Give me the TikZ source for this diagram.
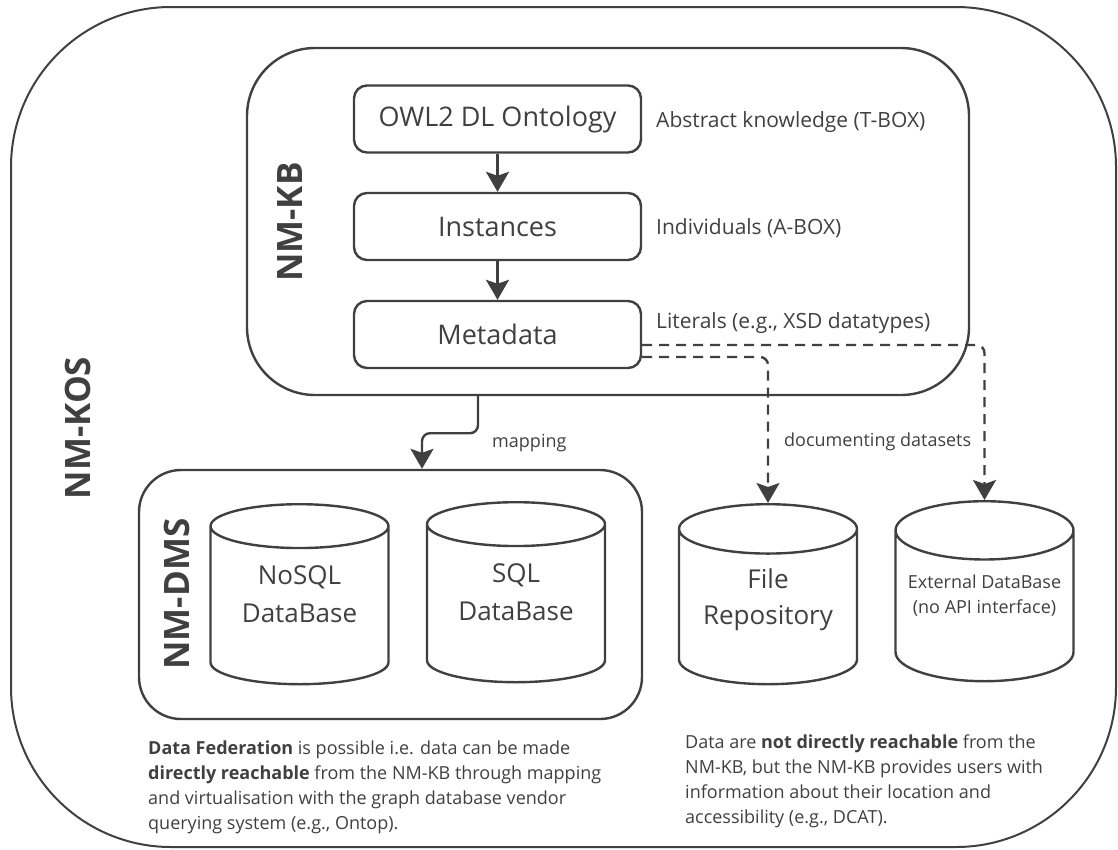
\documentclass[tikz,border=0pt]{standalone}
\usepackage{fontspec}
\setmainfont{Open Sans}
\usetikzlibrary{shapes.geometric,arrows.meta}
\definecolor{ink}{RGB}{64,64,64}

\begin{document}
\begin{tikzpicture}[x=1pt, y=-1pt, color=ink, line width=2.4pt,
    frame/.style={draw, inner sep=0pt},
    layer/.style={draw, rounded corners=13pt, minimum width=287pt, minimum height=67pt, inner sep=0pt, font=\fontsize{27}{32}\selectfont},
    title/.style={rotate=90, inner sep=0pt, font=\fontsize{35}{40}\selectfont\bfseries},
    remark/.style={anchor=base west, inner sep=0pt, font=\fontsize{21}{25}\selectfont},
    smalltext/.style={inner sep=0pt, font=\fontsize{18}{25}\selectfont},
    store/.style={draw, cylinder, shape border rotate=90, aspect=0.38, minimum width=178pt, minimum height=180pt, inner sep=0pt, text depth=24pt, align=center, anchor=north},
    flow/.style={-{Stealth[length=20pt, width=23pt, inset=4pt]}},
    ref/.style={flow, dash pattern=on 10pt off 7pt, rounded corners=8pt}]

    \useasboundingbox (0,0) rectangle (1118,849);

    \node[frame, line width=2pt, rounded corners=160pt, minimum width=1105pt, minimum height=840pt] (kos) at (563.5,427) {};
    \node[frame, rounded corners=68pt, minimum width=722pt, minimum height=347pt] (kb) at (608,221.5) {};
    \node[frame, rounded corners=42pt, minimum width=503pt, minimum height=249pt] (dms) at (390.5,594.5) {};

    \node[title] (koslabel) at (78,428) {NM-KOS};
    \node[title] (kblabel) at (290,222) {NM-KB};
    \node[title] (dmslabel) at (177,594) {NM-DMS};

    \node[layer] (owl) at (497.5,119) {OWL2 DL Ontology};
    \node[layer] (inst) at (497.5,226.5) {Instances};
    \node[layer] (meta) at (497.5,334.5) {Metadata};
    \node[remark] (tbox) at (655,127) {Abstract knowledge (T-BOX)};
    \node[remark] (abox) at (655,234) {Individuals (A-BOX)};
    \node[remark] (lit) at (655,328) {Literals (e.g., XSD datatypes)};

    \node[store, font=\fontsize{26}{38}\selectfont] (nosql) at (299.5,503) {NoSQL\\DataBase};
    \node[store, font=\fontsize{26}{38}\selectfont] (sql) at (516,501) {SQL\\DataBase};
    \node[store, font=\fontsize{26}{36}\selectfont, text depth=22pt] (file) at (768,503) {File\\Repository};
    \node[store, font=\fontsize{18}{25}\selectfont, text depth=25pt] (ext) at (984.5,500) {External DataBase\\(no API interface)};

    \node[smalltext, anchor=base west] (map) at (491,447) {mapping};
    \node[smalltext, anchor=base west] (doc) at (783,446) {documenting datasets};
    \node[smalltext, anchor=north west, align=left] (fed) at (147,740) {\textbf{Data Federation} is possible i.e. data can be made\\\textbf{directly reachable} from the NM-KB through mapping\\and virtualisation with the graph database vendor\\querying system (e.g., Ontop).};
    \node[smalltext, anchor=north west, align=left] (reach) at (684,734) {Data are \textbf{not directly reachable} from the\\NM-KB, but the NM-KB provides users with\\information about their location and\\accessibility (e.g., DCAT).};

    \coordinate (mapout) at ([xshift=-130pt]kb.south);
    \coordinate (mapin) at ([xshift=31.5pt]dms.north);

    \draw[flow] (owl) -- (inst);
    \draw[flow] (inst) -- (meta);
    \draw[flow, rounded corners=8pt] (mapout) -- ++(0,37) -| (mapin);
    \draw[ref] ([yshift=-22.5pt]meta.east) -| (file.north);
    \draw[ref] ([yshift=-10.5pt]meta.east) -| (ext.north);

\end{tikzpicture}
\end{document}
